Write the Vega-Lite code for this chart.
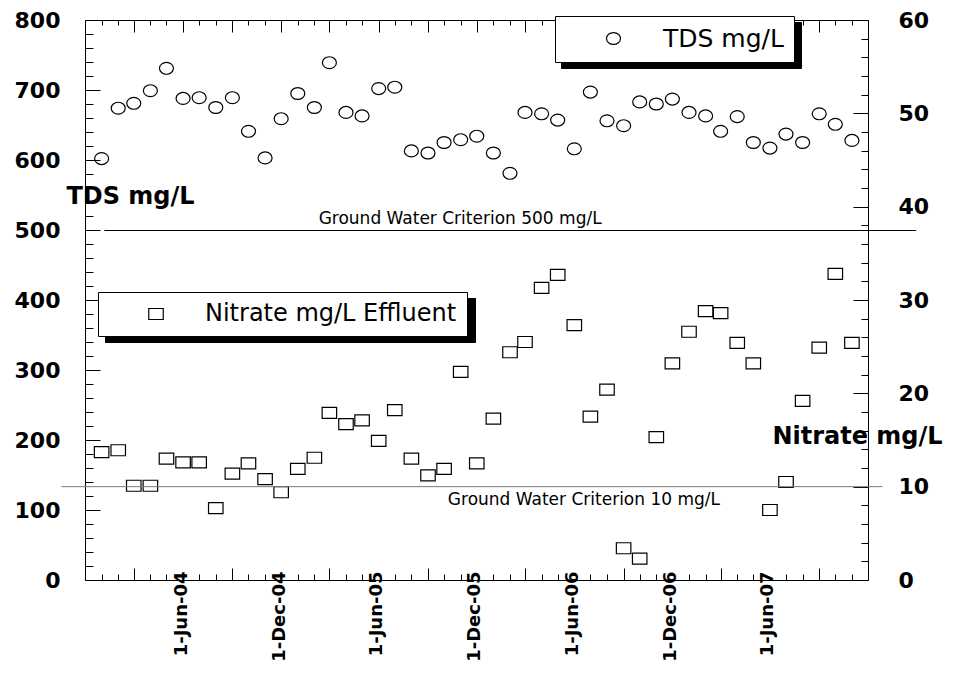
{
  "$schema": "https://vega.github.io/schema/vega-lite/v6.json",
  "width": 783,
  "height": 560,
  "autosize": "none",
  "padding": {"left": 85, "top": 20, "right": 85, "bottom": 97},
  "background": "white",
  "config": {
    "font": "DejaVu Sans",
    "view": {"stroke": null},
    "axis": {
      "grid": false,
      "domainColor": "#000",
      "tickColor": "#000",
      "labelColor": "#000",
      "titleColor": "#000",
      "labelFont": "DejaVu Sans",
      "titleFont": "DejaVu Sans",
      "labelFontWeight": "bold",
      "titleFontWeight": "bold",
      "labelFontSize": 22,
      "tickWidth": 1,
      "domainWidth": 1
    }
  },
  "datasets": {
    "monthly": [
      {"date": "2004-01-01", "tds": 602, "nitrate": 13.7},
      {"date": "2004-02-01", "tds": 674, "nitrate": 13.9},
      {"date": "2004-03-01", "tds": 681, "nitrate": 10.1},
      {"date": "2004-04-01", "tds": 699, "nitrate": 10.1},
      {"date": "2004-05-01", "tds": 731, "nitrate": 13.0},
      {"date": "2004-06-01", "tds": 688, "nitrate": 12.6},
      {"date": "2004-07-01", "tds": 689, "nitrate": 12.6},
      {"date": "2004-08-01", "tds": 675, "nitrate": 7.7},
      {"date": "2004-09-01", "tds": 689, "nitrate": 11.4},
      {"date": "2004-10-01", "tds": 641, "nitrate": 12.5},
      {"date": "2004-11-01", "tds": 603, "nitrate": 10.8},
      {"date": "2004-12-01", "tds": 659, "nitrate": 9.4},
      {"date": "2005-01-01", "tds": 695, "nitrate": 11.9},
      {"date": "2005-02-01", "tds": 675, "nitrate": 13.1},
      {"date": "2005-03-01", "tds": 739, "nitrate": 17.9},
      {"date": "2005-04-01", "tds": 668, "nitrate": 16.7},
      {"date": "2005-05-01", "tds": 663, "nitrate": 17.1},
      {"date": "2005-06-01", "tds": 702, "nitrate": 14.9},
      {"date": "2005-07-01", "tds": 704, "nitrate": 18.2},
      {"date": "2005-08-01", "tds": 613, "nitrate": 13.0},
      {"date": "2005-09-01", "tds": 610, "nitrate": 11.2},
      {"date": "2005-10-01", "tds": 625, "nitrate": 11.9},
      {"date": "2005-11-01", "tds": 629, "nitrate": 22.3},
      {"date": "2005-12-01", "tds": 634, "nitrate": 12.5},
      {"date": "2006-01-01", "tds": 610, "nitrate": 17.3},
      {"date": "2006-02-01", "tds": 581, "nitrate": 24.4},
      {"date": "2006-03-01", "tds": 668, "nitrate": 25.5},
      {"date": "2006-04-01", "tds": 666, "nitrate": 31.3},
      {"date": "2006-05-01", "tds": 657, "nitrate": 32.7},
      {"date": "2006-06-01", "tds": 616, "nitrate": 27.3},
      {"date": "2006-07-01", "tds": 697, "nitrate": 17.5},
      {"date": "2006-08-01", "tds": 656, "nitrate": 20.4},
      {"date": "2006-09-01", "tds": 649, "nitrate": 3.4},
      {"date": "2006-10-01", "tds": 683, "nitrate": 2.3},
      {"date": "2006-11-01", "tds": 680, "nitrate": 15.3},
      {"date": "2006-12-01", "tds": 687, "nitrate": 23.2},
      {"date": "2007-01-01", "tds": 668, "nitrate": 26.6},
      {"date": "2007-02-01", "tds": 663, "nitrate": 28.8},
      {"date": "2007-03-01", "tds": 641, "nitrate": 28.6},
      {"date": "2007-04-01", "tds": 662, "nitrate": 25.4},
      {"date": "2007-05-01", "tds": 625, "nitrate": 23.2},
      {"date": "2007-06-01", "tds": 617, "nitrate": 7.5},
      {"date": "2007-07-01", "tds": 637, "nitrate": 10.5},
      {"date": "2007-08-01", "tds": 625, "nitrate": 19.2},
      {"date": "2007-09-01", "tds": 666, "nitrate": 24.9},
      {"date": "2007-10-01", "tds": 651, "nitrate": 32.8},
      {"date": "2007-11-01", "tds": 628, "nitrate": 25.4}
    ],
    "tdsCriterion": [
      {"label": "Ground Water Criterion 500 mg/L", "start": "2004-01-06", "end": "2008-02-29", "mid": "2005-10-31", "value": 500}
    ],
    "nitrateCriterion": [
      {"label": "Ground Water Criterion 10 mg/L", "start": "2003-10-18", "end": "2007-12-28", "mid": "2006-06-19", "value": 10}
    ]
  },
  "resolve": {
    "scale": {"y": "independent", "shape": "independent", "color": "independent"},
    "axis": {"x": "independent"}
  },
  "layer": [
    {
      "layer": [
        {
          "data": {"name": "monthly"},
          "mark": {"type": "point", "filled": false, "size": 196, "strokeWidth": 1.2, "opacity": 1},
          "encoding": {
            "x": {"field": "date", "type": "temporal",
                  "scale": {"type": "utc", "domain": [{"year": 2003, "month": 12, "date": 1, "utc": true}, {"year": 2007, "month": 12, "date": 1, "utc": true}]},
                  "axis": {
                    "orient": "bottom",
                    "title": null,
                    "tickCount": {"interval": "month", "step": 1},
                    "labelAngle": 270,
                    "labelAlign": "right",
                    "labelBaseline": "middle",
                    "labelFontSize": 18,
                    "labelPadding": -3,
                    "labelOffset": -2,
                    "labelOverlap": false,
                    "labelFlush": false,
                    "labelExpr": "(utcmonth(datum.value) == 5 || (utcmonth(datum.value) == 11 && utcyear(datum.value) > 2003 && utcyear(datum.value) < 2007)) ? utcFormat(datum.value, '%-d-%b-%y') : ''",
                    "tickSize": {"condition": {"test": "utcmonth(datum.value) % 6 === 2", "value": -12}, "value": -6},
                    "tickOpacity": {"condition": {"test": "utcmonth(datum.value) % 6 === 5", "value": 0}, "value": 1}
                  }},
            "y": {"field": "tds", "type": "quantitative",
                  "scale": {"domain": [0, 800], "nice": false, "zero": false},
                  "axis": {
                    "orient": "left",
                    "values": [0, 20, 40, 60, 80, 100, 120, 140, 160, 180, 200, 220, 240, 260, 280, 300, 320, 340, 360, 380, 400, 420, 440, 460, 480, 500, 520, 540, 560, 580, 600, 620, 640, 660, 680, 700, 720, 740, 760, 780, 800],
                    "tickCount": 100,
                    "format": "d",
                    "tickSize": {"condition": {"test": "datum.value % 100 === 0", "value": -15}, "value": -8},
                    "labelExpr": "datum.value % 100 === 0 ? datum.label : ''",
                    "labelPadding": 40,
                    "labelOverlap": false,
                    "labelFlush": false,
                    "title": "TDS mg/L",
                    "titleAngle": 0,
                    "titleX": 45,
                    "titleY": 176,
                    "titleAlign": "center",
                    "titleBaseline": "middle",
                    "titleFontSize": 24
                  }},
            "shape": {"datum": "TDS mg/L",
                      "scale": {"range": ["M-1,0A1,0.85,0,1,1,1,0A1,0.85,0,1,1,-1,0Z"]},
                      "legend": {
                        "title": null, "orient": "none", "legendX": 470, "legendY": -4,
                        "padding": 10, "symbolOffset": 36, "labelOffset": 37,
                        "symbolSize": 196, "symbolStrokeWidth": 1.2, "symbolStrokeColor": "#000", "symbolFillColor": "transparent",
                        "labelFont": "DejaVu Sans", "labelFontSize": 25, "labelColor": "#000", "labelLimit": 500,
                        "fillColor": "#fff", "strokeColor": "#000", "zindex": 2,
                        "encode": {"legend": {"update": {"strokeWidth": {"value": 2}}}}
                      }},
            "color": {"datum": "TDS shadow",
                      "scale": {"range": ["#000"]},
                      "legend": {
                        "title": null, "orient": "none", "legendX": 476, "legendY": 2,
                        "padding": 10, "symbolOffset": 0, "labelOffset": 195,
                        "symbolSize": 196, "symbolStrokeWidth": 1.2,
                        "labelFont": "DejaVu Sans", "labelFontSize": 25, "labelColor": "#000", "labelLimit": 500,
                        "labelExpr": "''",
                        "fillColor": "#000", "strokeColor": "#000", "zindex": 1
                      }}
          }
        },
        {
          "data": {"name": "tdsCriterion"},
          "mark": {"type": "rule", "stroke": "#000", "strokeWidth": 1, "yOffset": 0.5},
          "encoding": {
            "x": {"field": "start", "type": "temporal",
                  "scale": {"type": "utc", "domain": [{"year": 2003, "month": 12, "date": 1, "utc": true}, {"year": 2007, "month": 12, "date": 1, "utc": true}]}},
            "x2": {"field": "end"},
            "y": {"field": "value", "type": "quantitative", "scale": {"domain": [0, 800], "nice": false, "zero": false}}
          }
        },
        {
          "data": {"name": "tdsCriterion"},
          "mark": {"type": "text", "font": "DejaVu Sans", "fontSize": 17, "baseline": "alphabetic", "align": "center", "dy": -6, "color": "#000"},
          "encoding": {
            "x": {"field": "mid", "type": "temporal",
                  "scale": {"type": "utc", "domain": [{"year": 2003, "month": 12, "date": 1, "utc": true}, {"year": 2007, "month": 12, "date": 1, "utc": true}]}},
            "y": {"field": "value", "type": "quantitative", "scale": {"domain": [0, 800], "nice": false, "zero": false}},
            "text": {"field": "label"}
          }
        }
      ]
    },
    {
      "layer": [
        {
          "data": {"name": "monthly"},
          "mark": {"type": "point", "filled": false, "size": 210, "strokeWidth": 1.2, "opacity": 1},
          "encoding": {
            "x": {"field": "date", "type": "temporal",
                  "scale": {"type": "utc", "domain": [{"year": 2003, "month": 12, "date": 1, "utc": true}, {"year": 2007, "month": 12, "date": 1, "utc": true}]},
                  "axis": {
                    "orient": "top",
                    "title": null,
                    "labels": false,
                    "tickCount": {"interval": "month", "step": 1},
                    "tickSize": {"condition": {"test": "utcmonth(datum.value) % 3 === 2", "value": -12}, "value": -5}
                  }},
            "y": {"field": "nitrate", "type": "quantitative",
                  "scale": {"domain": [0, 60], "nice": false, "zero": false},
                  "axis": {
                    "orient": "right",
                    "values": [0, 2, 4, 6, 8, 10, 12, 14, 16, 18, 20, 22, 24, 26, 28, 30, 32, 34, 36, 38, 40, 42, 44, 46, 48, 50, 52, 54, 56, 58, 60],
                    "tickCount": 100,
                    "format": "d",
                    "tickSize": {"condition": {"test": "datum.value % 10 === 0", "value": -15}, "value": -7},
                    "labelExpr": "datum.value % 10 === 0 ? datum.label : ''",
                    "labelPadding": 45,
                    "labelOverlap": false,
                    "labelFlush": false,
                    "title": "Nitrate mg/L",
                    "titleAngle": 0,
                    "titleX": -11,
                    "titleY": 416,
                    "titleAlign": "center",
                    "titleBaseline": "middle",
                    "titleFontSize": 24
                  }},
            "shape": {"datum": "Nitrate mg/L Effluent",
                      "scale": {"range": ["M-1,-0.76H1V0.76H-1Z"]},
                      "legend": {
                        "title": null, "orient": "none", "legendX": 13, "legendY": 272,
                        "padding": 10, "symbolOffset": 36, "labelOffset": 37,
                        "symbolSize": 210, "symbolStrokeWidth": 1.2, "symbolStrokeColor": "#000", "symbolFillColor": "transparent",
                        "labelFont": "DejaVu Sans", "labelFontSize": 24, "labelColor": "#000", "labelLimit": 500,
                        "fillColor": "#fff", "strokeColor": "#000", "zindex": 2,
                        "encode": {"legend": {"update": {"strokeWidth": {"value": 2}}}}
                      }},
            "color": {"datum": "Nitrate shadow",
                      "scale": {"range": ["#000"]},
                      "legend": {
                        "title": null, "orient": "none", "legendX": 20, "legendY": 278,
                        "padding": 10, "symbolOffset": 0, "labelOffset": 326,
                        "symbolSize": 210, "symbolStrokeWidth": 1.2,
                        "labelFont": "DejaVu Sans", "labelFontSize": 24, "labelColor": "#000", "labelLimit": 500,
                        "labelExpr": "''",
                        "fillColor": "#000", "strokeColor": "#000", "zindex": 1
                      }}
          }
        },
        {
          "data": {"name": "nitrateCriterion"},
          "mark": {"type": "rule", "stroke": "#7a7a7a", "strokeWidth": 1},
          "encoding": {
            "x": {"field": "start", "type": "temporal",
                  "scale": {"type": "utc", "domain": [{"year": 2003, "month": 12, "date": 1, "utc": true}, {"year": 2007, "month": 12, "date": 1, "utc": true}]}},
            "x2": {"field": "end"},
            "y": {"field": "value", "type": "quantitative", "scale": {"domain": [0, 60], "nice": false, "zero": false}}
          }
        },
        {
          "data": {"name": "nitrateCriterion"},
          "mark": {"type": "text", "font": "DejaVu Sans", "fontSize": 17, "baseline": "alphabetic", "align": "center", "dy": 18, "color": "#000"},
          "encoding": {
            "x": {"field": "mid", "type": "temporal",
                  "scale": {"type": "utc", "domain": [{"year": 2003, "month": 12, "date": 1, "utc": true}, {"year": 2007, "month": 12, "date": 1, "utc": true}]}},
            "y": {"field": "value", "type": "quantitative", "scale": {"domain": [0, 60], "nice": false, "zero": false}},
            "text": {"field": "label"}
          }
        }
      ]
    }
  ]
}
